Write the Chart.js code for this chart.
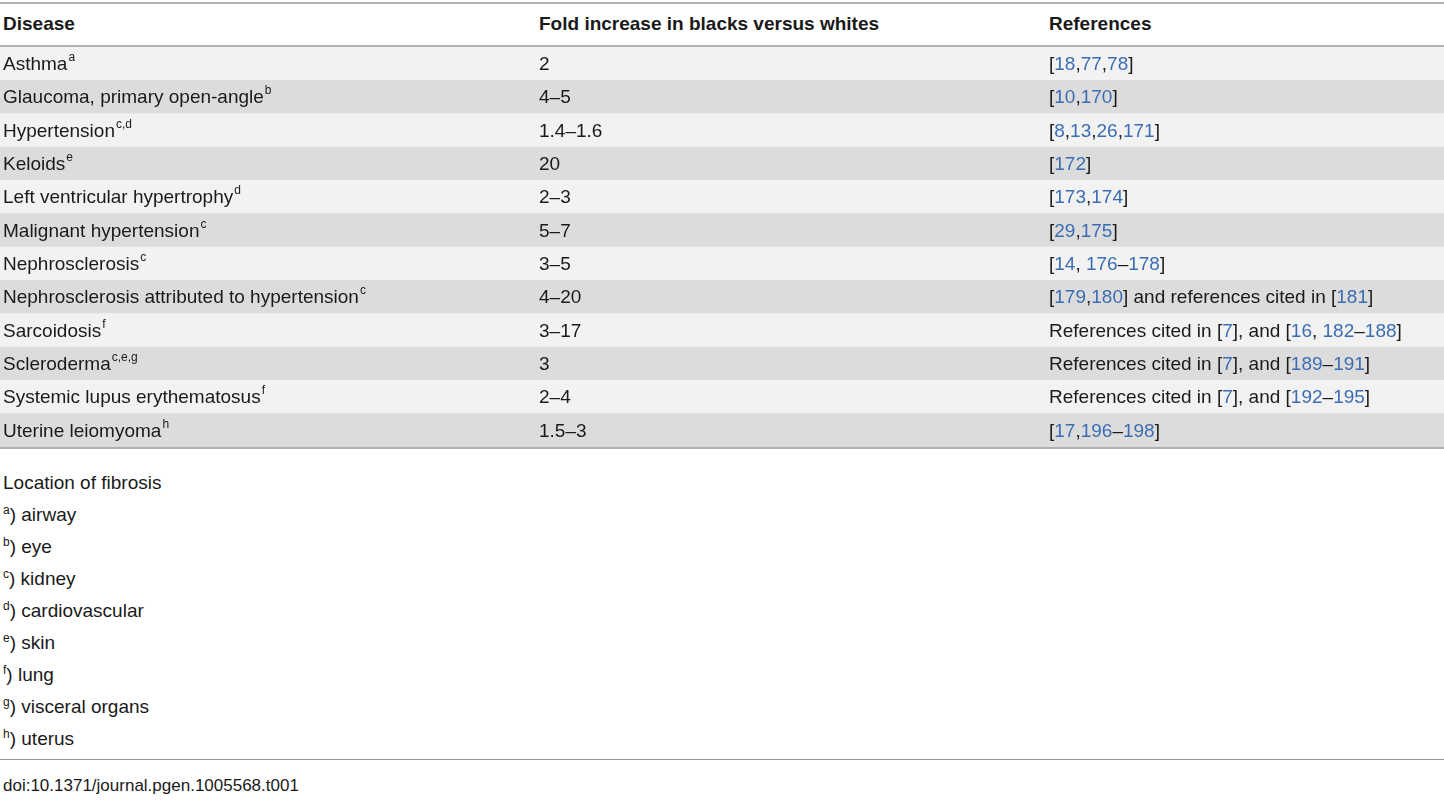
<!DOCTYPE html>
<html><head><meta charset="utf-8">
<script src="https://cdn.jsdelivr.net/npm/chart.js@4"></script>
<style>
body{margin:0;background:#fff;font-family:"Liberation Sans",Arial,sans-serif;color:#1a1a1a;width:1444px;height:800px;position:relative;overflow:hidden}
.hl{position:absolute;left:0;width:1444px;height:2px;background:#b0b0b0}
.th{position:absolute;top:13px;font-weight:bold;font-size:19px}
#wrap{position:absolute;left:0;top:47px;width:1444px;height:400px}
.fn{position:absolute;left:3px;font-size:19px}
sup{font-size:12px;vertical-align:7px;line-height:0}
</style></head><body>
<div class="hl" style="top:2px"></div>
<div class="th" style="left:3px">Disease</div>
<div class="th" style="left:539px">Fold increase in blacks versus whites</div>
<div class="th" style="left:1049px">References</div>
<div class="hl" style="top:45px"></div>
<div id="wrap"><canvas id="tbl"></canvas></div>
<div class="hl" style="top:447px"></div>
<div id="notes"></div>
<div class="hl" style="top:759px;height:1px;background:#999"></div>
<div class="fn" style="top:776px;font-size:17px">doi:10.1371/journal.pgen.1005568.t001</div>
<script>
const diseases = ["Asthma", "Glaucoma, primary open-angle", "Hypertension", "Keloids", "Left ventricular hypertrophy", "Malignant hypertension", "Nephrosclerosis", "Nephrosclerosis attributed to hypertension", "Sarcoidosis", "Scleroderma", "Systemic lupus erythematosus", "Uterine leiomyoma"];
const sups = ["a", "b", "c,d", "e", "d", "c", "c", "c", "f", "c,e,g", "f", "h"];
const folds = ["2", "4–5", "1.4–1.6", "20", "2–3", "5–7", "3–5", "4–20", "3–17", "3", "2–4", "1.5–3"];
const refs = ["[18,77,78]", "[10,170]", "[8,13,26,171]", "[172]", "[173,174]", "[29,175]", "[14, 176–178]", "[179,180] and references cited in [181]", "References cited in [7], and [16, 182–188]", "References cited in [7], and [189–191]", "References cited in [7], and [192–195]", "[17,196–198]"];
const noteKeys = ["a", "b", "c", "d", "e", "f", "g", "h"];
const noteTexts = ["airway", "eye", "kidney", "cardiovascular", "skin", "lung", "visceral organs", "uterus"];
const rowFill = ["#f2f2f2", "#dcdcdc"];

let notes = '<div class="fn" style="top:472px">Location of fibrosis</div>';
noteKeys.forEach((k, i) => {
    notes += `<div class="fn" style="top:${504 + i * 32}px"><sup>${k}</sup>) ${noteTexts[i]}</div>`;
});
document.getElementById("notes").innerHTML = notes;

const FONT = '19px "Liberation Sans", Arial, sans-serif';
const SUP = '12px "Liberation Sans", Arial, sans-serif';

// draws the cell text at the row centres of the y scale
const cellText = {
    id: "cellText",
    afterDatasetsDraw(chart) {
        const ctx = chart.ctx, y = chart.scales.y, x = chart.scales.x;
        ctx.save();
        ctx.textBaseline = "middle";
        diseases.forEach((d, i) => {
            const cy = y.getPixelForValue(i) + 1;
            ctx.font = FONT; ctx.fillStyle = "#1a1a1a";
            let px = x.getPixelForValue(0) + 3;
            ctx.fillText(d, px, cy);
            px += ctx.measureText(d).width + 1;
            ctx.font = SUP; ctx.fillText(sups[i], px, cy - 7);
            ctx.font = FONT;
            ctx.fillText(folds[i], x.getPixelForValue(539 / 1444), cy);
            let rx = x.getPixelForValue(1049 / 1444);
            refs[i].split(/(\d+)/).forEach(part => {
                if (!part) return;
                ctx.fillStyle = /^\d+$/.test(part) ? "#3b6db3" : "#1a1a1a";
                ctx.fillText(part, rx, cy);
                rx += ctx.measureText(part).width;
            });
        });
        ctx.restore();
    }
};

new Chart(document.getElementById("tbl"), {
    type: "bar",
    data: {
        labels: diseases,
        datasets: [{
            data: diseases.map(() => 1),
            backgroundColor: diseases.map((_, i) => rowFill[i % 2]),
            barPercentage: 1, categoryPercentage: 1, borderWidth: 0
        }]
    },
    options: {
        indexAxis: "y", responsive: true, maintainAspectRatio: false, animation: false,
        layout: { padding: 0 },
        plugins: { legend: { display: false }, tooltip: { enabled: false } },
        scales: {
            x: { display: false, min: 0, max: 1 },
            y: { display: false }
        }
    },
    plugins: [cellText]
});
</script>
</body></html>
